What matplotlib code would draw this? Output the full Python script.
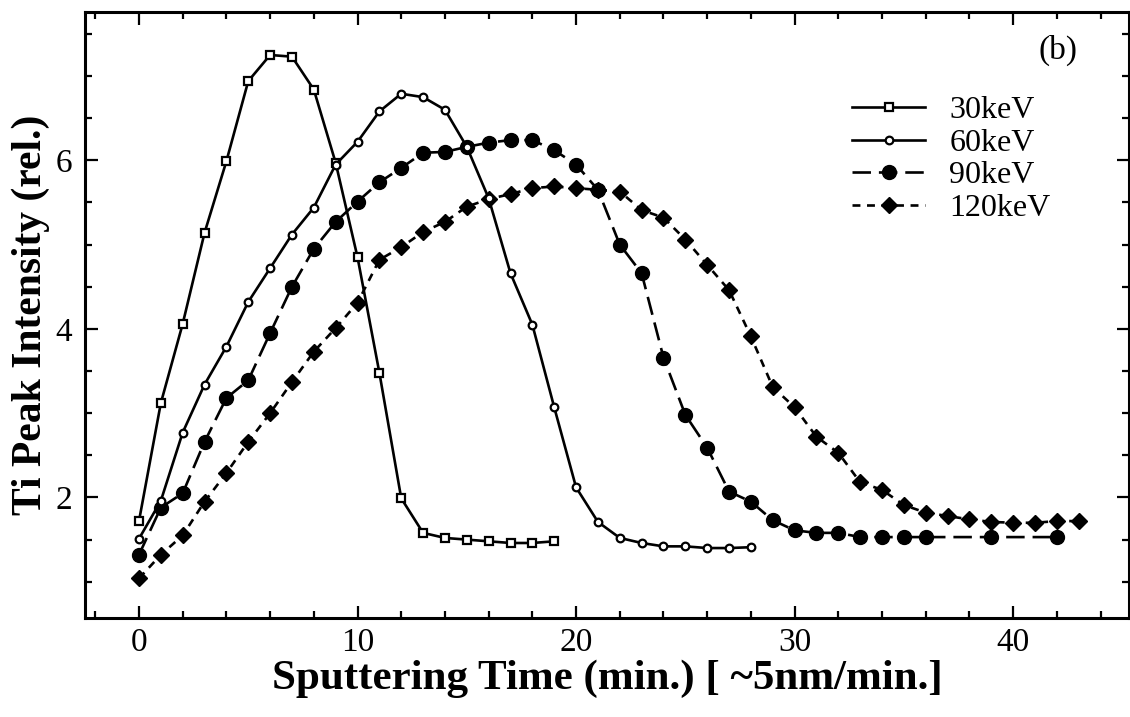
import matplotlib
matplotlib.use("Agg")
import matplotlib.pyplot as plt
from matplotlib.ticker import MultipleLocator

# ---- data ----
x30 = list(range(0, 20))
y30 = [1.72, 3.12, 4.06, 5.14, 5.99, 6.94, 7.25, 7.23, 6.84, 5.97,
       4.85, 3.48, 1.99, 1.58, 1.52, 1.50, 1.48, 1.46, 1.46, 1.48]

x60 = list(range(0, 29))
y60 = [1.51, 1.96, 2.77, 3.34, 3.79, 4.32, 4.72, 5.12, 5.44, 5.95,
       6.22, 6.58, 6.79, 6.75, 6.60, 6.16, 5.55, 4.66, 4.05, 3.07,
       2.12, 1.71, 1.52, 1.46, 1.42, 1.42, 1.40, 1.40, 1.41]

x90 = list(range(0, 37)) + [39, 42]
y90 = [1.32, 1.88, 2.05, 2.66, 3.18, 3.39, 3.95, 4.50, 4.95, 5.27,
       5.51, 5.74, 5.91, 6.09, 6.10, 6.16, 6.21, 6.24, 6.24, 6.12,
       5.95, 5.65, 5.00, 4.66, 3.66, 2.98, 2.59, 2.07, 1.95, 1.73,
       1.61, 1.58, 1.58, 1.53, 1.53, 1.53, 1.53, 1.53, 1.53]

x120 = list(range(0, 44))
y120 = [1.04, 1.32, 1.55, 1.95, 2.29, 2.66, 3.00, 3.37, 3.73, 4.01,
        4.31, 4.82, 4.97, 5.15, 5.27, 5.45, 5.54, 5.60, 5.67, 5.69,
        5.67, 5.65, 5.63, 5.41, 5.32, 5.06, 4.76, 4.46, 3.91, 3.31,
        3.07, 2.72, 2.53, 2.18, 2.09, 1.91, 1.82, 1.78, 1.74, 1.71,
        1.70, 1.70, 1.72, 1.72]

labels = ["30keV", "60keV", "90keV", "120keV"]
xlabel = "Sputtering Time (min.) [ ~5nm/min.]"
ylabel = "Ti Peak Intensity (rel.)"
xticks = [0, 10, 20, 30, 40]
yticks = [2, 4, 6]

plt.rcParams['font.family'] = ['Liberation Serif', 'DejaVu Serif']

fig = plt.figure(figsize=(11.3, 7.17), dpi=100)
ax = fig.add_axes([85/1130, (717-618)/717, (1129-85)/1130, (618-12)/717])

lw = 1.9
ax.plot(x30, y30, '-', color='black', lw=lw, marker='s', ms=6,
        mfc='white', mec='black', mew=1.6, label=labels[0], zorder=3)
ax.plot(x60, y60, '-', color='black', lw=lw, marker='o', ms=5.5,
        mfc='white', mec='black', mew=1.6, label=labels[1], zorder=3)
ax.plot(x90, y90, color='black', lw=lw, linestyle=(0, (7, 3)), marker='o',
        ms=10, mfc='black', mec='black', label=labels[2], zorder=2)
ax.plot(x120, y120, color='black', lw=lw, linestyle=(0, (3, 2.5)), marker='D',
        ms=8, mfc='black', mec='black', label=labels[3], zorder=2)

ax.set_xlim(-2.47, 45.3)
ax.set_ylim(0.57, 7.76)
ax.set_xticks(xticks)
ax.set_yticks(yticks)
ax.xaxis.set_minor_locator(MultipleLocator(2))
ax.yaxis.set_minor_locator(MultipleLocator(0.5))
ax.tick_params(which='both', direction='in', top=True, right=True, width=1.6)
ax.tick_params(which='major', length=9, labelsize=24)
ax.tick_params(axis='x', which='major', pad=7)
ax.tick_params(axis='y', which='major', pad=9)
ax.tick_params(which='minor', length=5)
for s in ax.spines.values():
    s.set_linewidth(2.2)

ax.set_xlabel(xlabel, fontsize=31, fontweight='bold', labelpad=1)
ax.set_ylabel(ylabel, fontsize=30, fontweight='bold', labelpad=4)

ax.text(1058/1130, 1 - 50/717, "(b)", transform=fig.transFigure,
        fontsize=24, ha='center', va='center')

leg = ax.legend(loc='upper left', bbox_to_anchor=(852/1130, 1 - 96/717),
                bbox_transform=fig.transFigure, frameon=False, fontsize=23,
                handlelength=2.3, handletextpad=0.75, labelspacing=0.1,
                borderpad=0, borderaxespad=0)

fig.savefig("out.png", dpi=100)
